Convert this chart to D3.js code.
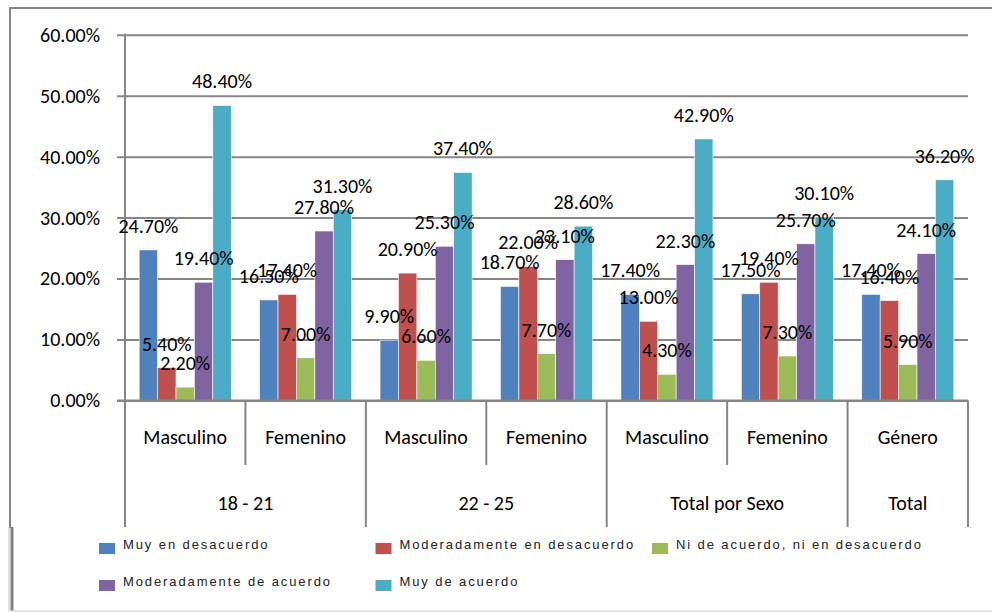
<!DOCTYPE html>
<html>
<head>
<meta charset="utf-8">
<script src="https://cdn.jsdelivr.net/npm/d3@7"></script>
<style>
    body { margin: 0; background: #fff; }
    svg { display: block; font-family: Calibri, Carlito, "Liberation Sans", Arial, sans-serif; }
</style>
</head>
<body>
<div class="chart__container"></div>
<script>
/*---------------------------Data---------------------------*/

const SUB_CATEGORIES = ["Masculino", "Femenino", "Masculino", "Femenino", "Masculino", "Femenino", "Género"];
const GROUP_LABELS = ["18 - 21", "22 - 25", "Total por Sexo", "Total"];
const GROUP_SIZES = [2, 2, 2, 1];

const SERIES = [
    "Muy en desacuerdo",
    "Moderadamente en desacuerdo",
    "Ni de acuerdo, ni en desacuerdo",
    "Moderadamente de acuerdo",
    "Muy de acuerdo"
];
const MUY_DESACUERDO = [24.7, 16.5, 9.9, 18.7, 17.4, 17.5, 17.4];
const MOD_DESACUERDO = [5.4, 17.4, 20.9, 22.0, 13.0, 19.4, 16.4];
const NI_NI = [2.2, 7.0, 6.6, 7.7, 4.3, 7.3, 5.9];
const MOD_ACUERDO = [19.4, 27.8, 25.3, 23.1, 22.3, 25.7, 24.1];
const MUY_ACUERDO = [48.4, 31.3, 37.4, 28.6, 42.9, 30.1, 36.2];
const Y_TICKS = [0, 10, 20, 30, 40, 50, 60];

/*---------------------------Init---------------------------*/

const WIDTH = 992;
const HEIGHT = 612;
const PLOT = { left: 125, right: 968, top: 34.7, bottom: 400.5 };
const COLOR = ["#4F81BD", "#C0504D", "#9BBB59", "#8064A2", "#4BACC6"];
const LINE = "#868686";
const FONT_SIZE = 20;

const values = [MUY_DESACUERDO, MOD_DESACUERDO, NI_NI, MOD_ACUERDO, MUY_ACUERDO];
const keys = SUB_CATEGORIES.map((d, i) => i);
const rows = [];
values.forEach((arr, s) => arr.forEach((v, i) => rows.push({ cat: i, series: SERIES[s], s: s, value: v })));

const svg = d3.select(".chart__container").append("svg")
    .attr("width", WIDTH)
    .attr("height", HEIGHT);

//scales

const yScale = d3.scaleLinear().domain([0, 60]).range([PLOT.bottom, PLOT.top]);
const xScale = d3.scaleBand().domain(keys).range([PLOT.left, PLOT.right]).padding(0);
const xInner = d3.scaleBand().domain(SERIES).range([0, xScale.bandwidth()]).paddingInner(0).paddingOuter(0.77);

//outer frame

svg.append("path")
    .attr("d", `M10,528 L10,8 L${WIDTH},8`)
    .attr("fill", "none")
    .attr("stroke", LINE)
    .attr("stroke-width", 2);

//gridlines + y labels

const yAxis = d3.axisLeft(yScale)
    .tickValues(Y_TICKS)
    .tickFormat(d => d.toFixed(2) + "%")
    .tickSize(PLOT.right - 117)
    .tickPadding(17);

const yG = svg.append("g")
    .attr("transform", `translate(${PLOT.right},0)`)
    .call(yAxis);
yG.select(".domain").remove();
yG.selectAll("line").attr("stroke", LINE).attr("stroke-width", 2);
yG.selectAll("text")
    .attr("font-size", FONT_SIZE)
    .attr("font-family", "Calibri, Carlito, 'Liberation Sans', Arial, sans-serif")
    .attr("fill", "#000");

//y axis line

svg.append("line")
    .attr("x1", PLOT.left).attr("x2", PLOT.left)
    .attr("y1", yScale(60) - 1).attr("y2", 528)
    .attr("stroke", LINE).attr("stroke-width", 2);

//category separators

const step = xScale.step();
let groupEnds = [];
GROUP_SIZES.reduce((acc, n) => { groupEnds.push(acc + n); return acc + n; }, 0);
for (let i = 1; i <= keys.length; i++) {
    const x = PLOT.left + i * step;
    const isGroup = groupEnds.includes(i);
    svg.append("line")
        .attr("x1", x).attr("x2", x)
        .attr("y1", PLOT.bottom).attr("y2", isGroup ? 528 : 465)
        .attr("stroke", LINE).attr("stroke-width", 2);
}

//bars

svg.append("g").selectAll("rect")
    .data(rows)
    .enter()
    .append("rect")
    .attr("x", d => xScale(d.cat) + xInner(d.series))
    .attr("y", d => yScale(d.value))
    .attr("width", xInner.bandwidth())
    .attr("height", d => yScale(0) - yScale(d.value))
    .attr("fill", d => COLOR[d.s])
    .attr("stroke", "#fff")
    .attr("stroke-width", 0.6);

//x axis line (over bars)

svg.append("line")
    .attr("x1", 117).attr("x2", PLOT.right)
    .attr("y1", PLOT.bottom).attr("y2", PLOT.bottom)
    .attr("stroke", LINE).attr("stroke-width", 2);

//data labels

svg.append("g").selectAll("text")
    .data(rows)
    .enter()
    .append("text")
    .attr("x", d => xScale(d.cat) + xInner(d.series) + xInner.bandwidth() / 2)
    .attr("y", d => yScale(d.value) - 24)
    .attr("text-anchor", "middle")
    .attr("dominant-baseline", "central")
    .attr("font-size", FONT_SIZE)
    .attr("fill", "#000")
    .text(d => d.value.toFixed(2) + "%");

//category labels

svg.append("g").selectAll("text")
    .data(keys)
    .enter()
    .append("text")
    .attr("x", d => xScale(d) + xScale.bandwidth() / 2)
    .attr("y", 437)
    .attr("text-anchor", "middle")
    .attr("dominant-baseline", "central")
    .attr("font-size", FONT_SIZE)
    .attr("fill", "#000")
    .text(d => SUB_CATEGORIES[d]);

//group labels

let start = 0;
GROUP_LABELS.forEach((g, i) => {
    const x0 = xScale(start);
    const x1 = xScale(start + GROUP_SIZES[i] - 1) + xScale.bandwidth();
    svg.append("text")
        .attr("x", (x0 + x1) / 2)
        .attr("y", 503)
        .attr("text-anchor", "middle")
        .attr("dominant-baseline", "central")
        .attr("font-size", FONT_SIZE)
        .attr("fill", "#000")
        .text(g);
    start += GROUP_SIZES[i];
});

//legend

const legend = svg.append("g");
legend.append("rect")
    .attr("x", 12).attr("y", 527)
    .attr("width", WIDTH - 12).attr("height", 84)
    .attr("fill", "#fff");
legend.append("line")
    .attr("x1", 12).attr("x2", 12).attr("y1", 527).attr("y2", 611)
    .attr("stroke", "#7f7f7f").attr("stroke-width", 3);
legend.append("line")
    .attr("x1", 9).attr("x2", 9).attr("y1", 527).attr("y2", 611)
    .attr("stroke", "#bdbdbd").attr("stroke-width", 1);
legend.append("line")
    .attr("x1", 10).attr("x2", WIDTH).attr("y1", 611).attr("y2", 611)
    .attr("stroke", "#dcdcdc").attr("stroke-width", 1.5);

const legendItems = legend.selectAll(".item")
    .data(SERIES)
    .enter()
    .append("g")
    .attr("class", "item")
    .attr("transform", (d, i) => `translate(${99 + (i % 3) * 276.5},${i < 3 ? 544 : 581})`);

legendItems.append("rect")
    .attr("x", 0).attr("y", -1)
    .attr("width", 16).attr("height", 11)
    .attr("fill", (d, i) => COLOR[i]);

legendItems.append("text")
    .attr("x", 24)
    .attr("y", 0)
    .attr("dominant-baseline", "central")
    .attr("font-family", "'Liberation Sans', Arial, sans-serif")
    .attr("font-size", 13)
    .attr("letter-spacing", 1.9)
    .attr("fill", "#222")
    .text(d => d);
</script>
</body>
</html>
